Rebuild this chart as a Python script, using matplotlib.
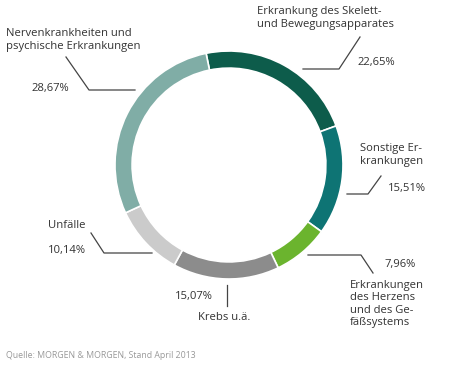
import matplotlib.pyplot as plt

# data
labels = ["Erkrankung des Skelett-\nund Bewegungsapparates", "Sonstige Er-\nkrankungen",
          "Erkrankungen\ndes Herzens\nund des Ge-\nfäßsystems", "Krebs u.ä.", "Unfälle",
          "Nervenkrankheiten und\npsychische Erkrankungen"]
values = [22.65, 15.51, 7.96, 15.07, 10.14, 28.67]
pct_labels = ["22,65%", "15,51%", "7,96%", "15,07%", "10,14%", "28,67%"]
colors = ["#0d5c4b", "#0e7474", "#6bb42e", "#8c8c8c", "#cbcbcb", "#80ada6"]
source = "Quelle: MORGEN & MORGEN, Stand April 2013"

W, H = 450, 365
fig = plt.figure(figsize=(W / 100, H / 100), dpi=100)
plt.rcParams['font.family'] = ['Open Sans', 'DejaVu Sans']

# donut, centre (229,165) radius 114 px
cx, cy, r = 229, 165, 114
ax = fig.add_axes([(cx - r) / W, (H - cy - r) / H, 2 * r / W, 2 * r / H])
ax.pie(values, colors=colors, startangle=101.6, counterclock=False,
       wedgeprops=dict(width=0.15, edgecolor="white", linewidth=1.2))
ax.set_xlim(-1, 1)
ax.set_ylim(-1, 1)
ax.set_aspect("equal")
ax.axis("off")

# overlay in pixel coords for labels / leader lines
ov = fig.add_axes([0, 0, 1, 1], zorder=3)
ov.set_xlim(0, W)
ov.set_ylim(H, 0)
ov.axis("off")
ov.patch.set_alpha(0)

txt = dict(fontsize=8.1, color="#333333", va="center", ha="left", linespacing=1.15)
lc = dict(color="#444444", lw=0.9)

# label positions (x, y of text), pct positions, leader line points
lab_pos = [(257, 18), (360, 155), (350, 304), (198, 317), (48, 226), (6, 40)]
pct_pos = [(358, 63), (388, 189), (384, 264), (175, 297), (48, 251), (32, 89)]
leaders = [
    [(303, 69), (339, 69), (360, 37)],
    [(347, 194), (368, 194), (381, 176)],
    [(308, 255), (361, 255), (373, 273)],
    [(227, 285), (227, 306)],
    [(91, 233), (104, 253), (152, 253)],
    [(66, 57), (89, 90), (135, 90)],
]

for lab, (lx, ly), pct, (px, py), pts in zip(labels, lab_pos, pct_labels, pct_pos, leaders):
    ov.text(lx, ly, lab, **txt)
    ov.text(px, py, pct, **txt)
    ov.plot([p[0] for p in pts], [p[1] for p in pts], **lc)

ov.text(6, 355, source, fontsize=6.3, color="#999999", va="center", ha="left")

fig.savefig("out.png", dpi=100)
